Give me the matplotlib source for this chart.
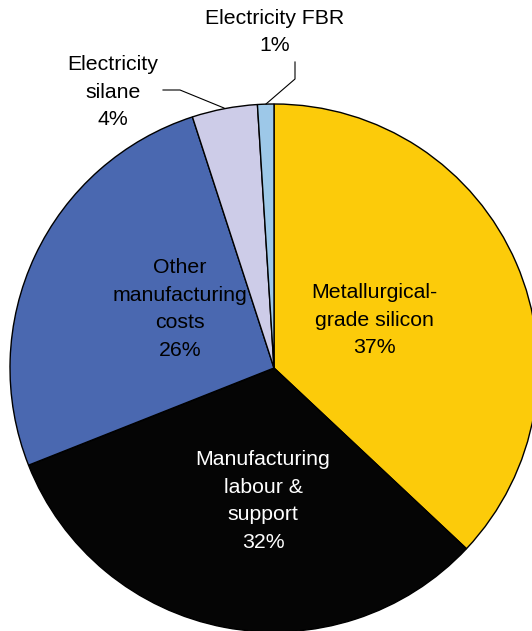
import matplotlib
matplotlib.use('Agg')
import matplotlib.pyplot as plt

plt.rcParams['font.family'] = ['Liberation Sans', 'DejaVu Sans']

labels = ['Metallurgical-\ngrade silicon', 'Manufacturing\nlabour &\nsupport',
          'Other\nmanufacturing\ncosts', 'Electricity\nsilane', 'Electricity FBR']
shares = [37, 32, 26, 4, 1]
colors = ['#FCCB0A', '#050505', '#4A68B0', '#CDCCE8', '#9DC8E8']

fig = plt.figure(figsize=(5.32, 6.31), dpi=100)
ax = fig.add_axes([0, 0, 1, 1])

# pixel-like coordinates, y measured from the bottom
cx, cy, r = 274, 263, 264
ax.pie(shares, colors=colors, startangle=90, counterclock=False,
       center=(cx, cy), radius=r,
       wedgeprops=dict(edgecolor='black', linewidth=1))
ax.set_xlim(0, 532)
ax.set_ylim(0, 631)
ax.axis('off')

fs = 15.3
ls = 1.56
# labels inside the big slices
ax.text(374, 631 - 320, labels[0] + '\n%d%%' % shares[0], ha='center', va='center',
        fontsize=fs, color='black', linespacing=ls)
ax.text(263, 631 - 501, labels[1] + '\n%d%%' % shares[1], ha='center', va='center',
        fontsize=fs, color='white', linespacing=ls)
ax.text(180, 631 - 309, labels[2] + '\n%d%%' % shares[2], ha='center', va='center',
        fontsize=fs, color='black', linespacing=ls)

# outside labels with leader lines
ax.text(113, 631 - 92, labels[3] + '\n%d%%' % shares[3], ha='center', va='center',
        fontsize=fs, color='black', linespacing=ls)
ax.plot([163, 180, 224], [631 - 90, 631 - 90, 631 - 108], color='black', lw=0.8)

ax.text(275, 631 - 32, labels[4] + '\n%d%%' % shares[4], ha='center', va='center',
        fontsize=fs, color='black', linespacing=ls)
ax.plot([295, 295, 266], [631 - 62, 631 - 79, 631 - 104], color='black', lw=0.8)

fig.savefig('out.png', dpi=100)
